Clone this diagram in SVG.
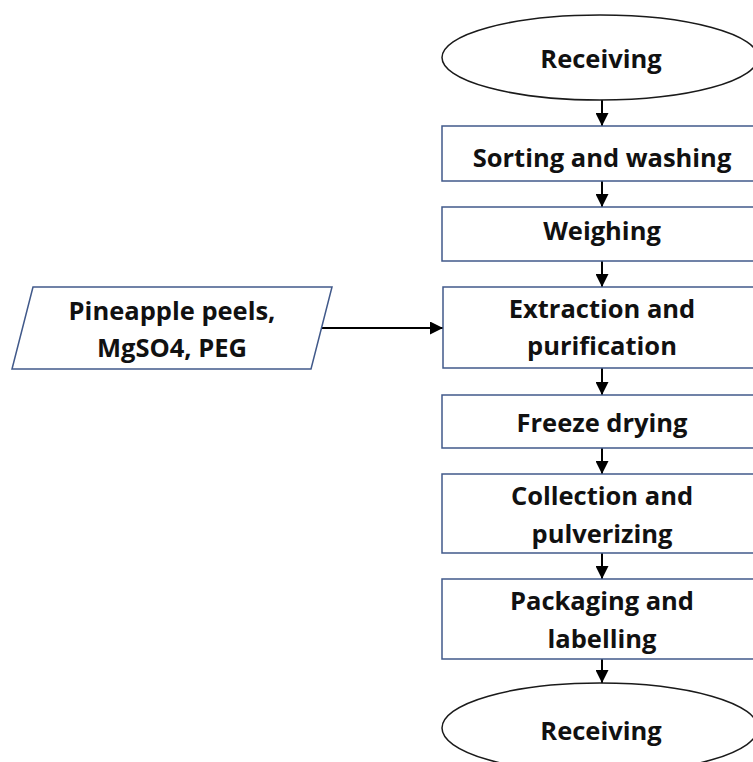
<svg xmlns="http://www.w3.org/2000/svg" width="753" height="762" viewBox="0 0 753 762">
<style>
  .box { fill: #ffffff; stroke: #41598a; stroke-width: 1.5; }
  .term { fill: #ffffff; stroke: #1a1a1a; stroke-width: 1.5; }
  .lbl { font-family: "Open Sans", Lato, "Liberation Sans", sans-serif; font-weight: 700; font-size: 25.5px; fill: #111111; text-anchor: middle; }
  .conn { stroke: #000000; stroke-width: 2; fill: none; }
</style>
<defs>
  <marker id="ah" markerUnits="userSpaceOnUse" markerWidth="13" markerHeight="13" refX="13" refY="6.5" orient="auto">
    <path d="M0,0 L13,6.5 L0,13 Z" fill="#000000"/>
  </marker>
</defs>
<rect width="753" height="762" fill="#ffffff"/>
<g id="connectors">
  <line class="conn" x1="602" y1="100" x2="602" y2="126" marker-end="url(#ah)"/>
  <line class="conn" x1="602" y1="181" x2="602" y2="207" marker-end="url(#ah)"/>
  <line class="conn" x1="602" y1="261" x2="602" y2="287" marker-end="url(#ah)"/>
  <line class="conn" x1="602" y1="368" x2="602" y2="395" marker-end="url(#ah)"/>
  <line class="conn" x1="602" y1="448" x2="602" y2="474" marker-end="url(#ah)"/>
  <line class="conn" x1="602" y1="553" x2="602" y2="579" marker-end="url(#ah)"/>
  <line class="conn" x1="602" y1="659" x2="602" y2="683" marker-end="url(#ah)"/>
  <line class="conn" x1="322" y1="328" x2="443" y2="328" marker-end="url(#ah)"/>
</g>
<g id="receiving-start">
  <ellipse class="term" cx="600" cy="57.5" rx="158" ry="42.5"/>
  <text class="lbl" x="601" y="68">Receiving</text>
</g>
<g id="sorting">
  <rect class="box" x="442" y="126" width="320" height="55"/>
  <text class="lbl" x="602" y="167">Sorting and washing</text>
</g>
<g id="weighing">
  <rect class="box" x="442" y="207" width="320" height="54"/>
  <text class="lbl" x="602" y="240">Weighing</text>
</g>
<g id="extraction">
  <rect class="box" x="443" y="287" width="320" height="81"/>
  <text class="lbl" x="602" y="318">Extraction and</text>
  <text class="lbl" x="602" y="355">purification</text>
</g>
<g id="inputs">
  <polygon class="box" points="33,287 332,287 311,369 12,369"/>
  <text class="lbl" x="172" y="320">Pineapple peels,</text>
  <text class="lbl" x="172" y="357">MgSO4, PEG</text>
</g>
<g id="freeze-drying">
  <rect class="box" x="442" y="395" width="320" height="53"/>
  <text class="lbl" x="602" y="432">Freeze drying</text>
</g>
<g id="collection">
  <rect class="box" x="442" y="474" width="320" height="79"/>
  <text class="lbl" x="602" y="505">Collection and</text>
  <text class="lbl" x="602" y="543">pulverizing</text>
</g>
<g id="packaging">
  <rect class="box" x="442" y="579" width="320" height="80"/>
  <text class="lbl" x="602" y="610">Packaging and</text>
  <text class="lbl" x="602" y="648">labelling</text>
</g>
<g id="receiving-end">
  <ellipse class="term" cx="600" cy="728" rx="158" ry="45"/>
  <text class="lbl" x="601" y="740">Receiving</text>
</g>
</svg>
